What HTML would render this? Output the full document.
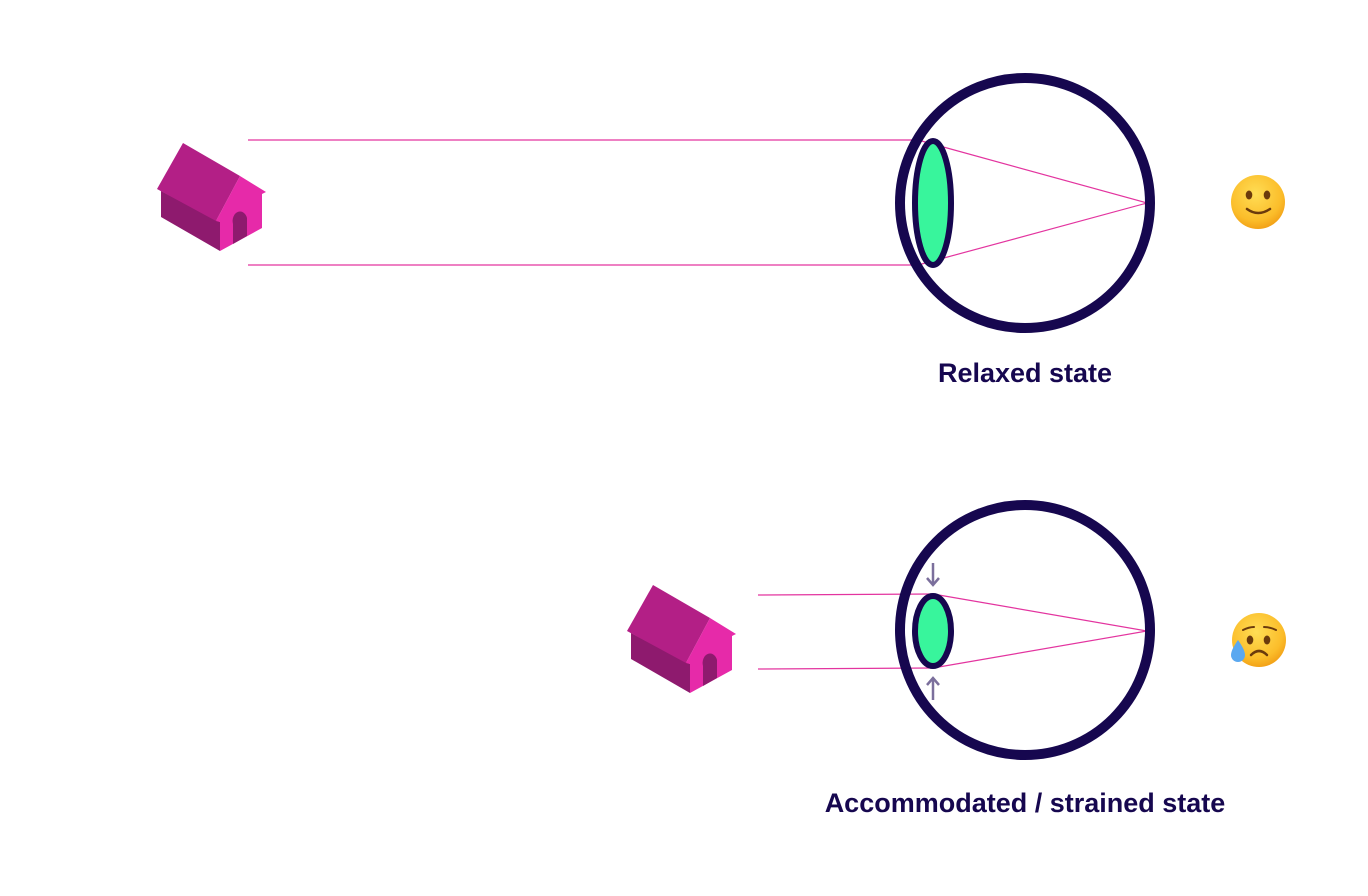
<!DOCTYPE html>
<html><head><meta charset="utf-8"><style>
html,body{margin:0;padding:0;background:#fff;width:1368px;height:896px;overflow:hidden}
svg{display:block}
text{font-family:"Liberation Sans",sans-serif;fill:#16074f;font-weight:bold}
</style></head><body>
<svg width="1368" height="896" viewBox="0 0 1368 896" xmlns="http://www.w3.org/2000/svg">
<defs>
<g id="house">
  <polygon points="161,191 161,217 220,251 220,222" fill="#8e1a6e"/>
  <polygon points="183,143 240,176 216,221 157,189" fill="#b31f86"/>
  <polygon points="216,221 240,176 266,192 262,194 262,228 220,251 220,222" fill="#e62aa9"/>
  <path d="M233,244 L233,224 A7 9 0 0 1 247,218 L247,236 Z" fill="#8e1a6e"/>
</g>
<radialGradient id="face" cx="0.45" cy="0.35" r="0.7">
  <stop offset="0" stop-color="#ffdd55"/><stop offset="0.7" stop-color="#fbbd2a"/><stop offset="1" stop-color="#f09a12"/>
</radialGradient>
</defs>

<use href="#house"/>
<g stroke="#e3349f" stroke-width="1.2" fill="none">
  <line x1="248" y1="140" x2="918" y2="140"/>
  <line x1="248" y1="265" x2="918" y2="265"/>
  <line x1="918" y1="140" x2="1147" y2="203"/>
  <line x1="918" y1="265" x2="1147" y2="203"/>
</g>
<circle cx="1025" cy="203" r="125" fill="none" stroke="#16074f" stroke-width="10"/>
<ellipse cx="933" cy="203" rx="18" ry="62" fill="#38f59c" stroke="#16074f" stroke-width="6"/>
<text x="1025" y="382" font-size="27" text-anchor="middle">Relaxed state</text>

<use href="#house" transform="translate(470,442)"/>
<g stroke="#e3349f" stroke-width="1.2" fill="none">
  <line x1="758" y1="595" x2="933" y2="594"/>
  <line x1="758" y1="669" x2="933" y2="668"/>
  <line x1="933" y1="594" x2="1147" y2="631"/>
  <line x1="933" y1="668" x2="1147" y2="631"/>
</g>
<circle cx="1025" cy="630" r="125" fill="none" stroke="#16074f" stroke-width="10"/>
<ellipse cx="933" cy="631" rx="18" ry="35" fill="#38f59c" stroke="#16074f" stroke-width="6"/>
<g stroke="#7b6f9c" stroke-width="2.5" fill="none">
  <line x1="933" y1="563" x2="933" y2="585"/>
  <polyline points="927,578 933,585 939,578"/>
  <line x1="933" y1="700" x2="933" y2="678"/>
  <polyline points="927,685 933,678 939,685"/>
</g>
<text x="1025" y="812" font-size="27" text-anchor="middle">Accommodated / strained state</text>

<circle cx="1258" cy="202" r="27" fill="url(#face)"/>
<ellipse cx="1249" cy="195" rx="3.3" ry="4.5" fill="#6b3a0c"/>
<ellipse cx="1267" cy="195" rx="3.3" ry="4.5" fill="#6b3a0c"/>
<path d="M1247 209 Q1258 217 1270 209" stroke="#6b3a0c" stroke-width="2.5" fill="none" stroke-linecap="round"/>

<circle cx="1259" cy="640" r="27" fill="url(#face)"/>
<ellipse cx="1250" cy="640" rx="3.3" ry="4.5" fill="#6b3a0c"/>
<ellipse cx="1267" cy="640" rx="3.3" ry="4.5" fill="#6b3a0c"/>
<path d="M1243 630 Q1249 627 1254 627" stroke="#6b3a0c" stroke-width="2" fill="none" stroke-linecap="round"/>
<path d="M1264 627 Q1270 627 1276 630" stroke="#6b3a0c" stroke-width="2" fill="none" stroke-linecap="round"/>
<path d="M1251 655 Q1259 647 1267 655" stroke="#6b3a0c" stroke-width="2.5" fill="none" stroke-linecap="round"/>
<path d="M1238 640 Q1231 650 1231 655 A7 7 0 0 0 1245 655 Q1245 650 1238 640 Z" fill="#5aa8f0"/>
</svg>
</body></html>
